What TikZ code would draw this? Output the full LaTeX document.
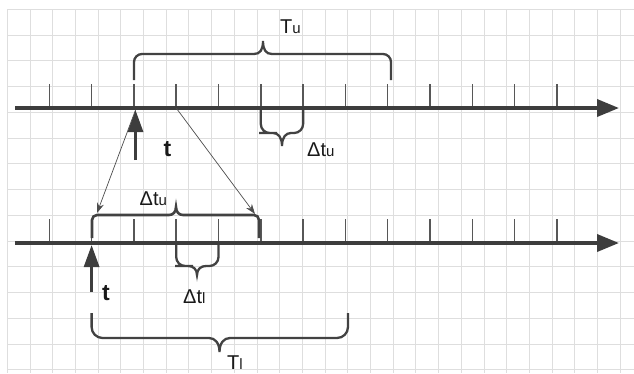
\documentclass[tikz,border=0pt]{standalone}
\usepackage{fontspec}
\setmainfont{Liberation Sans}
\usetikzlibrary{arrows.meta}

\tikzset{
  gridline/.style={draw=black!13, line width=0.9pt},
  axis/.style={draw=black!76, line width=3.6pt, -{Triangle[length=22pt,width=17pt]}},
  tick/.style={draw=black!66, line width=1.5pt},
  brace/.style={draw=black!74, line width=2.3pt},
  marker/.style={draw=black!76, line width=3pt, -{Triangle[length=22pt,width=15pt]}},
  pointer/.style={draw=black!70, line width=0.7pt, -{Stealth[length=10pt,width=7pt]}},
  lbl/.style={inner sep=0pt, text=black!90, anchor=base west},
}

\begin{document}
\begin{tikzpicture}[x=1pt, y=-1pt]
  \useasboundingbox (0,0) rectangle (634,373);
  % background grid
  \foreach \i in {0,...,27} {
    \draw[gridline] (7.3+22.7*\i, 9.3) -- (7.3+22.7*\i, 373);
  }
  \foreach \j in {0,...,14} {
    \draw[gridline] (7.3, 9.3+25.75*\j) -- (634, 9.3+25.75*\j);
  }
  % the two time axes and their ticks
  \foreach \i in {0,...,12} {
    \coordinate (u\i) at (49.3+42.3*\i, 108);
    \coordinate (l\i) at (49.3+42.3*\i, 243);
    \draw[tick] (u\i) -- ++(0,-24);
    \draw[tick] (l\i) -- ++(0,-24);
  }
  \coordinate (us) at (15,108);
  \coordinate (ue) at (619,108);
  \coordinate (ls) at (15,243);
  \coordinate (le) at (619,243);
  \draw[axis] (us) -- (ue);
  \draw[axis] (ls) -- (le);

  % braces
  \draw[brace] (134,80) [rounded corners=8pt] -- (134,54) -- (200,54) [sharp corners] -- (254,54)
    .. controls (260,54) and (263,50) .. (263,41) .. controls (263,50) and (266,54) .. (272,54)
    -- (330,54) [rounded corners=8pt] -- (391,54) -- (391,80);
  \draw[brace] (260.8,110) [rounded corners=9pt] -- (260.8,133) -- (268,133) [sharp corners] -- (273,133)
    .. controls (278,133) and (282,137) .. (282,146) .. controls (282,137) and (286,133) .. (291,133)
    -- (295,133) [rounded corners=9pt] -- (303.1,133) -- (303.1,110);
  \draw[brace, line width=2.6pt] (92,238) [rounded corners=5pt] -- (92,215) -- (140,215) [sharp corners] -- (169,215)
    .. controls (173,215) and (176,212) .. (176,207) .. controls (176,212) and (179,215) .. (183,215)
    -- (220,215) [rounded corners=5pt] -- (259,215) -- (259,238);
  \draw[brace] (176.2,245) [rounded corners=9pt] -- (176.2,266) -- (184,266) [sharp corners] -- (188,266)
    .. controls (193,266) and (197,269) .. (197,275) .. controls (197,269) and (201,266) .. (206,266)
    -- (210,266) [rounded corners=9pt] -- (218.5,266) -- (218.5,245);
  \draw[brace] (91.6,313) [rounded corners=11pt] -- (91.6,338) -- (150,338) [sharp corners] -- (209,338)
    .. controls (215,338) and (219.5,343) .. (219.5,352) .. controls (219.5,343) and (224,338) .. (230,338)
    -- (300,338) [rounded corners=11pt] -- (348,338) -- (348,313);

  % instants t
  \coordinate (ut) at (135.5,110);
  \coordinate (ub) at (135.5,160);
  \coordinate (lt) at (91.6,245);
  \coordinate (lb) at (91.6,292);
  \draw[marker] (ub) -- (ut);
  \draw[marker] (lb) -- (lt);

  % pointers to the lower window
  \coordinate (pl) at (97,213);
  \coordinate (pr) at (255,214);
  \draw[pointer] (ut) -- (pl);
  \draw[pointer] (u3) -- (pr);

  % labels
  \node[lbl] (Tu) at (280,33) {\fontsize{20}{20}\selectfont T\fontsize{15}{15}\selectfont u};
  \node[lbl] (Tl) at (227,369) {\fontsize{20}{20}\selectfont T\fontsize{15}{15}\selectfont l};
  \node[lbl] (dtu1) at (307,156.5) {\fontsize{20}{20}\selectfont Δt\fontsize{15}{15}\selectfont u};
  \node[lbl] (dtu2) at (139.5,205) {\fontsize{20}{20}\selectfont Δt\fontsize{15}{15}\selectfont u};
  \node[lbl] (dtl) at (183,303) {\fontsize{20}{20}\selectfont Δt\fontsize{15}{15}\selectfont l};
  \node[lbl] (t1) at (163.5,156.5) {\fontsize{23}{23}\selectfont\bfseries t};
  \node[lbl] (t2) at (102,300) {\fontsize{23}{23}\selectfont\bfseries t};
\end{tikzpicture}
\end{document}
